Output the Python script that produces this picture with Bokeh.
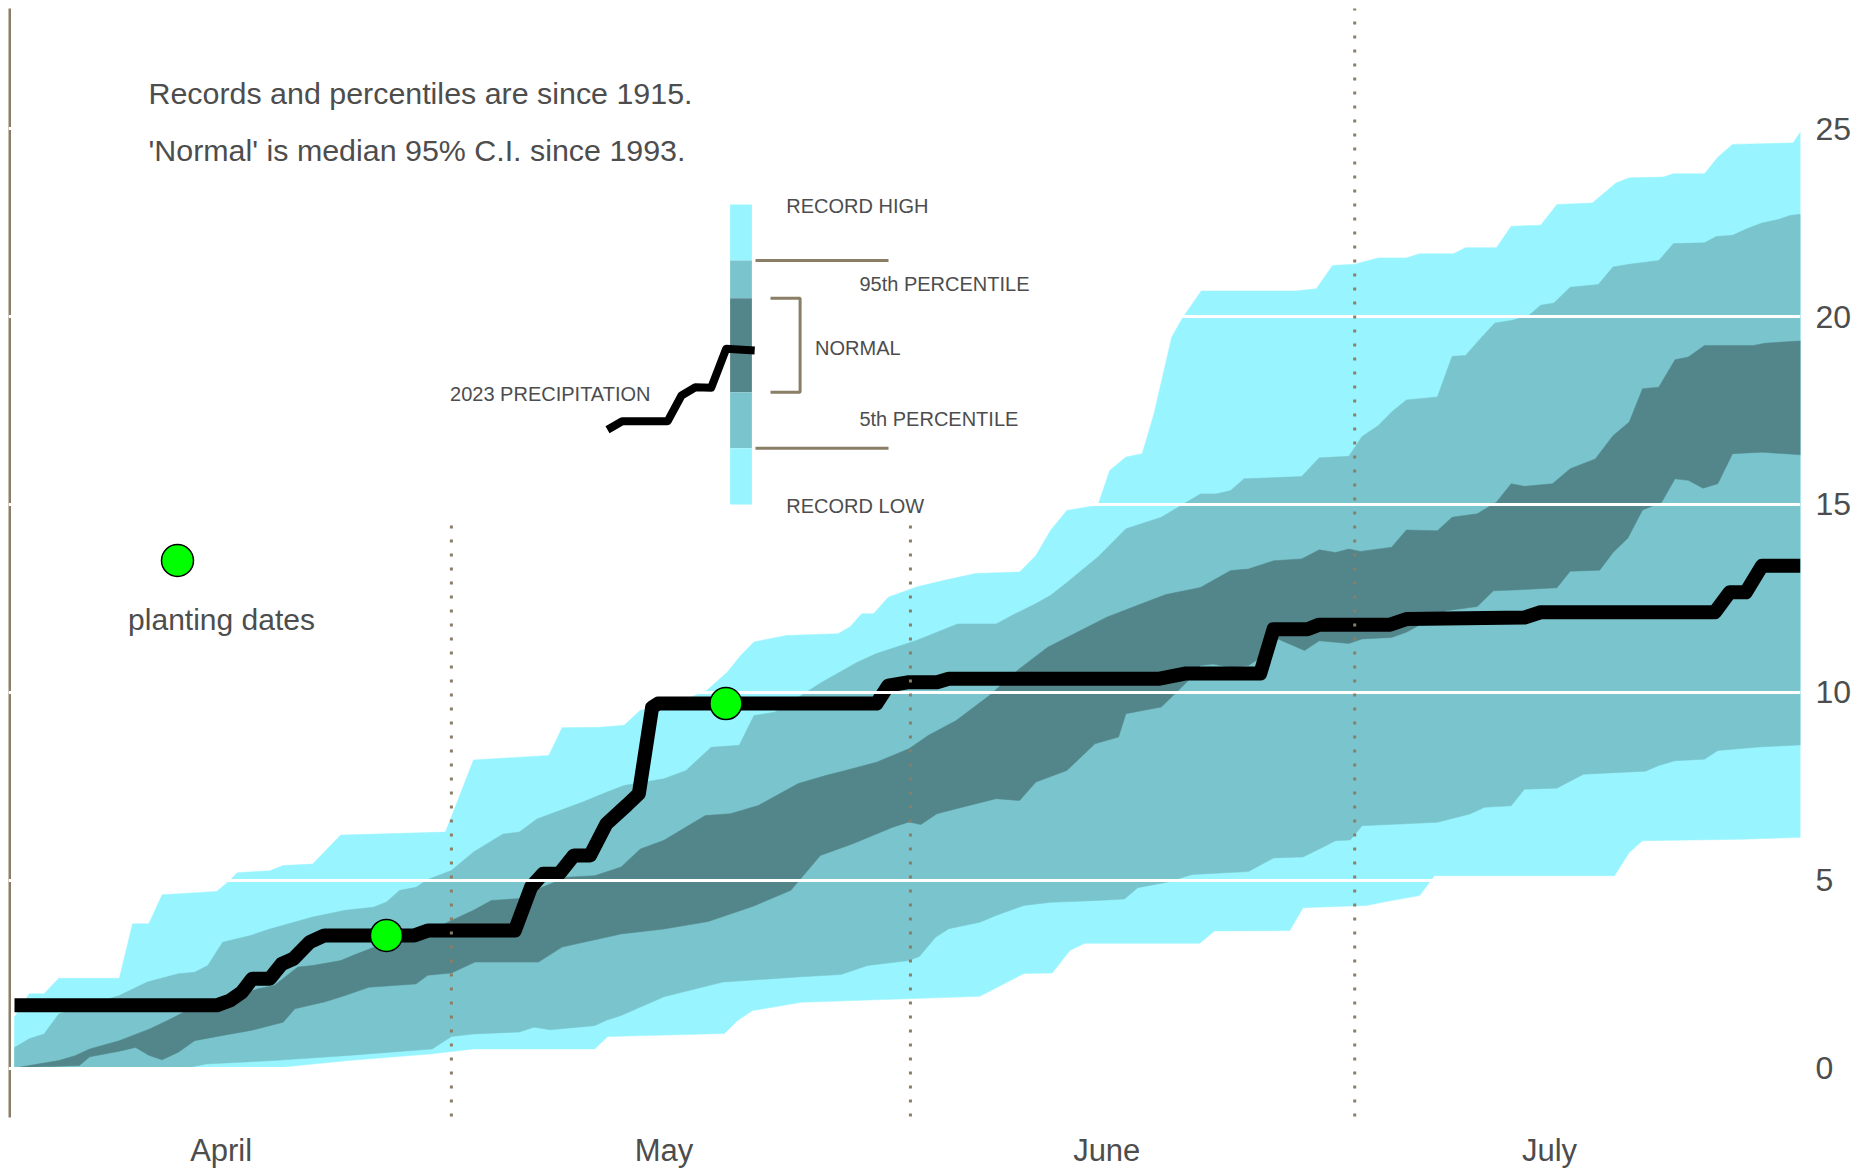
from bokeh.plotting import figure
from bokeh.models import Range1d, FixedTicker
from bokeh.core.properties import value
from bokeh.embed import file_html
from bokeh.resources import INLINE

# ---------------- data (day 0 = April 1, cumulative precipitation, inches) ----------------
rec_high_day = [0, 1, 2, 3, 7.1, 8, 9.1, 10, 13.7, 14.6, 15.1, 17.3, 18.2, 20.2, 22.1, 29.2, 31.1, 36.2, 37.1, 39.7,
                41.3, 42.4, 44.5, 46.9, 48.3, 49.2, 50.1, 52.3, 55.8, 56.6, 57.4, 58.2, 59.2, 61.1, 63.0, 65.1, 68.1,
                69.2, 70.2, 71.3, 73.4, 74.2, 75.3, 76.4, 77.2, 78.4, 79.1, 80.4, 86.8, 88.2, 89.3, 90.8, 92.4, 94.3,
                95.2, 97.5, 98.3, 100.4, 101.4, 103.4, 104.5, 106.9, 108.5, 109.4, 111.7, 112.4, 114.5, 115.4, 116.4,
                120.5, 121]
rec_high = [1.36, 1.98, 1.98, 2.39, 2.39, 3.84, 3.84, 4.61, 4.7, 5.0, 5.2, 5.25, 5.39, 5.43, 6.2, 6.28, 8.2, 8.32, 9.06,
            9.07, 9.12, 9.52, 9.65, 10.05, 10.54, 10.98, 11.34, 11.51, 11.56, 11.74, 12.09, 12.09, 12.53, 12.8, 12.98,
            13.16, 13.2, 13.64, 14.31, 14.84, 14.98, 15.9, 16.26, 16.35, 17.41, 19.45, 19.94, 20.68, 20.68, 20.74,
            21.36, 21.39, 21.56, 21.56, 21.67, 21.67, 21.83, 21.83, 22.4, 22.43, 22.98, 23.02, 23.55, 23.69, 23.71,
            23.8, 23.8, 24.24, 24.58, 24.62, 24.91]

rec_low_day = [0, 17.5, 22.6, 28.3, 31.1, 39.3, 40.2, 48.1, 49, 50, 53.3, 65.4, 68.4, 70.3, 71.5, 72.5, 80.3, 81.3,
               86.4, 87.3, 91.6, 93.2, 95.2, 96.2, 108.4, 109.4, 110.3, 117.0, 121]
rec_low = [0, 0, 0.2, 0.38, 0.51, 0.51, 0.84, 0.92, 1.27, 1.53, 1.75, 1.91, 2.52, 2.53, 3.13, 3.32, 3.32, 3.65, 3.66,
           4.27, 4.33, 4.45, 4.59, 5.12, 5.12, 5.74, 6.05, 6.09, 6.14]

p95_day = [0, 1, 2, 3, 7.1, 9, 11.1, 12.2, 13.1, 14.1, 16, 17.3, 20.2, 22.4, 24.3, 25.2, 26.1, 27.2, 28, 29.6, 31.1,
           33.1, 34.2, 35.4, 38.5, 40.1, 41.3, 44, 45.5, 47.2, 49.1, 50.1, 51.5, 54.7, 57.1, 58.4, 61.1, 63.9, 66.5,
           67.8, 69.2, 70.2, 71.2, 73.4, 75.3, 77.7, 80.35, 81.4, 82.4, 83.3, 87.2, 88.4, 90.4, 91.3, 92.4, 93.3, 94.3,
           96.4, 97.4, 98.3, 99.4, 100.3, 101.5, 102.6, 103.4, 104.3, 105.4, 107.3, 108.3, 109.4, 111.4, 112.4, 114.5,
           115.3, 116.4, 117.4, 118.4, 119.5, 120.3, 121]
p95 = [0.55, 0.78, 0.91, 1.44, 1.93, 2.29, 2.51, 2.55, 2.73, 3.35, 3.53, 3.7, 4.02, 4.2, 4.28, 4.42, 4.73, 4.81, 5.02,
       5.26, 5.75, 6.23, 6.28, 6.63, 7.08, 7.34, 7.52, 7.7, 7.92, 8.54, 8.59, 9.38, 9.47, 10.27, 10.8, 11.03, 11.38,
       11.82, 11.82, 12.09, 12.36, 12.58, 12.89, 13.6, 14.35, 14.66, 15.28, 15.28, 15.37, 15.68, 15.74, 16.24, 16.28,
       16.81, 17.1, 17.46, 17.78, 17.86, 18.94, 18.96, 19.45, 19.83, 19.9, 20.03, 20.3, 20.36, 20.78, 20.85, 21.32,
       21.39, 21.49, 21.94, 21.96, 22.13, 22.16, 22.34, 22.49, 22.58, 22.69, 22.72]

p5_day = [0, 12, 13, 17.5, 22.4, 28.3, 29.6, 31.1, 34.2, 35.2, 36.3, 39.3, 40.1, 41.1, 44, 48, 53.3, 56, 57.8, 60.6,
          61.3, 62.4, 63.3, 65.4, 66.5, 68.4, 70.2, 73.4, 75.2, 76.1, 78, 79.8, 83.6, 85.3, 87.3, 88.4, 89.5, 90.5,
          91.3, 96.4, 98.6, 99.6, 101.4, 102.3, 104.5, 106.3, 110.5, 111.4, 112.5, 114.5, 115.4, 118.4, 121]
p5 = [0, 0.03, 0.11, 0.2, 0.33, 0.51, 0.84, 0.91, 0.96, 1.09, 1.02, 1.13, 1.27, 1.4, 1.9, 2.29, 2.43, 2.49, 2.73, 2.86,
      2.97, 3.48, 3.71, 3.88, 4.06, 4.33, 4.41, 4.46, 4.5, 4.8, 4.94, 5.15, 5.23, 5.59, 5.62, 5.83, 6.05, 6.07, 6.45,
      6.54, 6.76, 6.94, 6.98, 7.42, 7.45, 7.82, 7.9, 8.05, 8.18, 8.22, 8.45, 8.55, 8.6]

normal_high_day = [0, 1, 3, 4.1, 5.1, 7.1, 9.2, 10.6, 11.9, 14.1, 15.1, 16.5, 17.6, 19.2, 20.2, 22.1, 23.2, 24.4, 26.4,
                   27.5, 29.6, 31.1, 32.3, 34.2, 35.5, 37.4, 39.3, 41.1, 42.4, 44, 46.8, 48.5, 50.4, 53.1, 55, 56.3,
                   58.4, 60.6, 61.9, 63.8, 66, 68, 70, 72, 74, 76, 78, 80.35, 82.4, 83.6, 85.3, 87.2, 88.4, 89.5, 90.4,
                   91.2, 93.3, 94.3, 96.4, 97.4, 99.1, 100.4, 101.4, 102.3, 104.2, 105.4, 107.1, 108.3, 109.4, 110.3,
                   111.4, 112.5, 113.4, 114.5, 117.8, 118.6, 121]
normal_high = [0, 0.07, 0.2, 0.33, 0.51, 0.73, 1.05, 1.31, 1.58, 1.71, 1.93, 2.11, 2.2, 2.69, 2.73, 2.86, 3.04, 3.22,
               3.35, 3.53, 3.93, 4.2, 4.46, 4.51, 4.77, 5.08, 5.12, 5.35, 5.83, 6.06, 6.72, 6.77, 6.99, 7.57, 7.79,
               7.92, 8.14, 8.5, 8.85, 9.25, 9.9, 10.6, 11.2, 11.6, 12.0, 12.3, 12.6, 12.79, 13.24, 13.28, 13.5, 13.55,
               13.79, 13.72, 13.81, 13.75, 13.86, 14.32, 14.3, 14.66, 14.75, 15.06, 15.55, 15.48, 15.55, 15.95, 16.21,
               16.83, 17.19, 18.08, 18.12, 18.85, 18.92, 19.23, 19.23, 19.29, 19.35]

normal_low_day = [0, 0.9, 4.4, 5.1, 7.1, 8.2, 9.1, 10.0, 11.1, 12.2, 14.1, 16.0, 18.2, 19.0, 21.0, 22.4, 24.0, 27.2,
                  28.0, 29.6, 31.2, 35.5, 37.1, 41.1, 44, 47, 50, 52.6, 54.6, 56.8, 59.5, 60.6, 61.4, 62.5, 63.8, 66.5,
                  68.1, 69.2, 71.3, 73.2, 74.8, 75.3, 77.7, 79.5, 80.35, 81.2, 82.4, 83.6, 84.1, 85.6, 87.4, 88.4,
                  90.4, 91.3, 93.3, 94.3, 97.0, 99.1, 100.2, 101.5, 104.5, 105.4, 107.4, 108.3, 109.3, 110.3, 111.6,
                  112.5, 113.4, 114.4, 115.4, 116.4, 118.4, 121]
normal_low = [0, 0.02, 0.07, 0.3, 0.45, 0.55, 0.34, 0.22, 0.42, 0.73, 0.87, 1.0, 1.22, 1.58, 1.76, 1.93, 2.15, 2.24,
              2.47, 2.53, 2.82, 2.82, 3.22, 3.57, 3.7, 3.9, 4.3, 4.73, 5.66, 5.97, 6.41, 6.55, 6.48, 6.77, 6.9, 7.17,
              7.12, 7.61, 7.92, 8.63, 8.81, 9.43, 9.61, 10.3, 10.71, 10.75, 10.66, 10.71, 10.84, 11.42, 11.11, 11.37,
              11.3, 11.42, 11.46, 11.6, 12.17, 12.28, 12.7, 12.72, 12.78, 13.22, 13.25, 13.72, 14.1, 14.85, 15.06,
              15.68, 15.64, 15.43, 15.55, 16.35, 16.39, 16.32]

precip_2023_day = [0, 13.7, 14.6, 15.4, 16.1, 17.3, 18.1, 18.9, 20.0, 21.0, 27.1, 28.0, 33.9, 35.0, 35.8, 36.9, 37.9,
                   39.0, 40.1, 41.5, 42.3, 43.2, 43.6, 58.4, 59.2, 60.6, 62.5, 63.3, 77.5, 79.3, 84.4, 85.3, 87.6,
                   88.4, 93.2, 94.3, 102.3, 103.4, 115.2, 116.2, 117.3, 118.4, 121]
precip_2023 = [1.67, 1.67, 1.8, 2.02, 2.38, 2.38, 2.77, 2.91, 3.35, 3.53, 3.53, 3.66, 3.66, 4.82, 5.17, 5.17, 5.66,
               5.66, 6.5, 7.0, 7.3, 9.6, 9.7, 9.7, 10.18, 10.27, 10.27, 10.36, 10.36, 10.5, 10.5, 11.68, 11.68, 11.8,
               11.8, 11.95, 11.99, 12.13, 12.13, 12.66, 12.66, 13.37, 13.37]

planting_day = [25.2, 48.2]
planting_precip = [3.53, 9.7]

month_ticks = [14, 44, 74, 104]
month_labels = ["April", "May", "June", "July"]
month_bounds = [29.6, 60.7, 90.8]
y_ticks = [0, 5, 10, 15, 20, 25]

note_lines = ["Records and percentiles are since 1915.", "'Normal' is median 95% C.I. since 1993."]

# ---------------- styling / layout ----------------
FONT = "Liberation Sans"
TXT = "#4d4d4d"
C_REC = "#98F5FF"     # cadetblue1
C_PCT = "#7AC5CD"     # cadetblue3
C_NORM = "#53868B"    # cadetblue4
BROWN = "#8B7E66"     # wheat4

W, H = 1860, 1171
PAGE_OFF = 0          # the figure sits at the page origin
# page pixel <-> data helpers
X0_PX, DAY_PX = 14.0, 14.76
Y0_PX, UNIT_PX = 1067.6, 37.58
def dx(px):
    return (px - X0_PX) / DAY_PX
def vy(py):
    return (Y0_PX - py) / UNIT_PX

FRAME_L, FRAME_R, FRAME_T, FRAME_B = 8, 1800, 8, 1118

p = figure(width=W, height=H, output_backend="svg", toolbar_location=None,
           x_range=Range1d(dx(FRAME_L), dx(FRAME_R)), y_range=Range1d(vy(FRAME_B), vy(FRAME_T)),
           y_axis_location="right",
           min_border_left=FRAME_L - PAGE_OFF, min_border_top=FRAME_T - PAGE_OFF,
           min_border_right=PAGE_OFF + W - FRAME_R, min_border_bottom=PAGE_OFF + H - FRAME_B)
p.outline_line_color = None
p.background_fill_color = "white"
p.border_fill_color = "white"
p.xgrid.visible = False
p.ygrid.visible = False

for ax in (p.xaxis[0], p.yaxis[0]):
    ax.axis_line_color = None
    ax.major_tick_line_color = None
    ax.minor_tick_line_color = None
    ax.major_tick_in = 0
    ax.major_tick_out = 0
    ax.minor_tick_in = 0
    ax.minor_tick_out = 0
    ax.major_label_text_font = FONT
    ax.major_label_text_color = TXT

p.xaxis[0].ticker = FixedTicker(ticks=month_ticks)
p.xaxis[0].major_label_overrides = {t: l for t, l in zip(month_ticks, month_labels)}
p.xaxis[0].major_label_text_font_size = "31px"
p.xaxis[0].major_label_standoff = 14
p.yaxis[0].ticker = FixedTicker(ticks=y_ticks)
p.yaxis[0].major_label_text_font_size = "32px"
p.yaxis[0].major_label_standoff = 15


def band(xu, yu, xl, yl):
    return list(xu) + list(xl)[::-1], list(yu) + list(yl)[::-1]

for (xu, yu, xl, yl, col) in [
        (rec_high_day, rec_high, rec_low_day, rec_low, C_REC),
        (p95_day, p95, p5_day, p5, C_PCT),
        (normal_high_day, normal_high, normal_low_day, normal_low, C_NORM)]:
    xs, ys = band(xu, yu, xl, yl)
    p.patch(xs, ys, fill_color=col, line_color=col, line_width=0.5)

# left rule
p.segment(x0=[dx(9)], y0=[vy(1117)], x1=[dx(9)], y1=[vy(0)], line_color=BROWN, line_width=3)

# 2023 precipitation
p.line(precip_2023_day, precip_2023, line_color="black", line_width=14, line_join="round")

# white gridlines
p.hspan(y=y_ticks, line_color="white", line_width=3)

# month boundary dotted lines
p.segment(x0=month_bounds, y0=[vy(1116)] * 3, x1=month_bounds, y1=[vy(514), vy(514), vy(6)],
          line_color=BROWN, line_width=3, line_dash="3 11")

# planting date points
p.scatter(planting_day, planting_precip, size=32, fill_color="#00FF00", line_color="black", line_width=1.5)

# ---------------- notes ----------------
p.text(x=[dx(148)] * 2, y=[vy(92.5), vy(149.5)], text=note_lines,
       text_font=value(FONT), text_font_size="30.4px", text_color=TXT,
       text_align="left", text_baseline="middle")

# planting dates key
p.scatter([dx(177)], [vy(560)], size=32, fill_color="#00FF00", line_color="black", line_width=1.5)
p.text(x=[dx(221)], y=[vy(619)], text=["planting dates"], text_font=value(FONT), text_font_size="30px",
       text_color=TXT, text_align="center", text_baseline="middle")

# ---------------- legend key ----------------
bar_l, bar_r = dx(729.6), dx(751.4)
edges = [vy(204), vy(260), vy(297.7), vy(391.7), vy(447.7), vy(504)]
cols = [C_REC, C_PCT, C_NORM, C_PCT, C_REC]
p.quad(left=[bar_l] * 5, right=[bar_r] * 5, top=edges[:-1], bottom=edges[1:], fill_color=cols, line_color=None)

key_px = [(607, 429.3), (621.7, 420.7), (667.2, 420.7), (681, 395), (694.9, 386.7), (710.7, 387.3),
          (725.7, 348.3), (754.2, 350)]
p.line([dx(a) for a, b in key_px], [vy(b) for a, b in key_px], line_color="black", line_width=8,
       line_join="round")

p.segment(x0=[dx(755)] * 2, y0=[vy(260), vy(447.7)], x1=[dx(888)] * 2, y1=[vy(260), vy(447.7)],
          line_color=BROWN, line_width=3)
p.line([dx(770), dx(799.6), dx(799.6), dx(770)], [vy(297.7), vy(297.7), vy(391.7), vy(391.7)],
       line_color=BROWN, line_width=3)

key_labels = ["RECORD HIGH", "95th PERCENTILE", "NORMAL", "5th PERCENTILE", "RECORD LOW"]
key_x = [785.8, 858.9, 814.6, 858.9, 785.8]
key_y = [205, 283.3, 347.7, 418.3, 505.7]
p.text(x=[dx(a) for a in key_x], y=[vy(b) for b in key_y], text=key_labels, text_font=value(FONT),
       text_font_size="20px", text_color=TXT, text_align="left", text_baseline="middle")
p.text(x=[dx(650)], y=[vy(393.3)], text=["2023 PRECIPITATION"], text_font=value(FONT),
       text_font_size="20px", text_color=TXT, text_align="right", text_baseline="middle")

open("out.html", "w").write(file_html(p, INLINE))
